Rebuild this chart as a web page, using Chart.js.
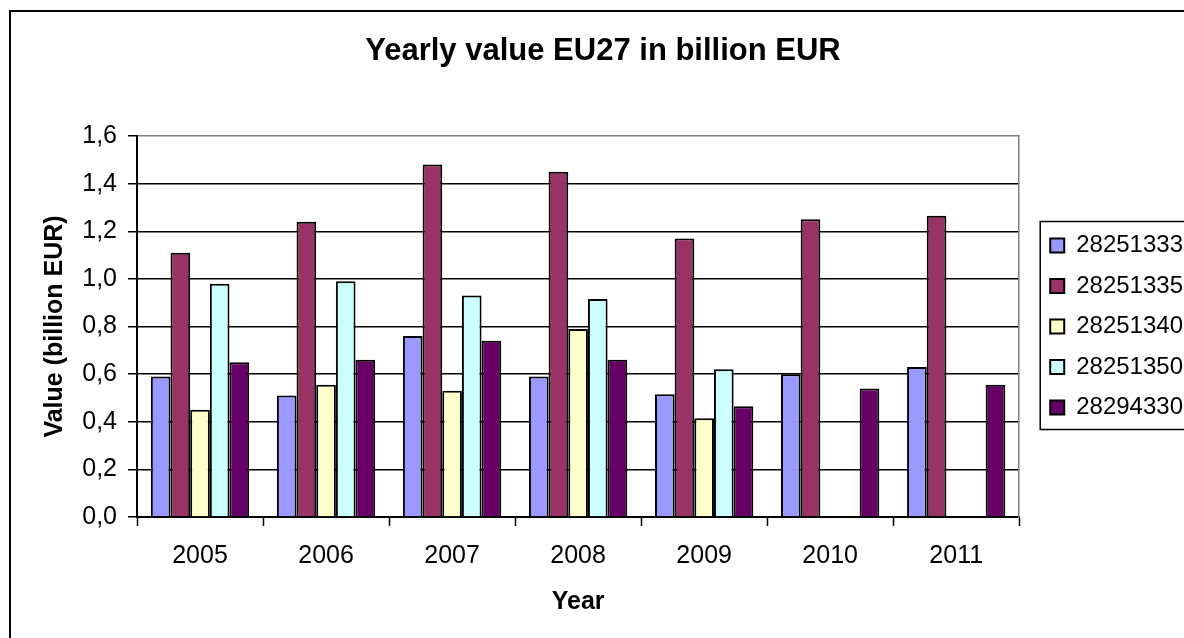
<!DOCTYPE html>
<html>
<head>
<meta charset="utf-8">
<title>Yearly value EU27 in billion EUR</title>
<script src="https://cdn.jsdelivr.net/npm/chart.js@4.4.1/dist/chart.umd.min.js"></script>
<style>
  html, body { margin: 0; padding: 0; background: #fff; overflow: hidden; }
  canvas { display: block; }
</style>
</head>
<body>
<canvas id="chart" width="1193" height="638"></canvas>
<script>
const years = ['2005', '2006', '2007', '2008', '2009', '2010', '2011'];
const seriesNames = ['28251333', '28251335', '28251340', '28251350', '28294330'];
const values28251333 = [0.59, 0.51, 0.76, 0.59, 0.515, 0.60, 0.63];
const values28251335 = [1.11, 1.24, 1.48, 1.45, 1.17, 1.25, 1.265];
const values28251340 = [0.45, 0.555, 0.53, 0.79, 0.415, null, null];
const values28251350 = [0.98, 0.99, 0.93, 0.915, 0.62, null, null];
const values28294330 = [0.65, 0.66, 0.74, 0.66, 0.465, 0.54, 0.555];
const yTickLabels = ['0,0', '0,2', '0,4', '0,6', '0,8', '1,0', '1,2', '1,4', '1,6'];

const seriesValues = [values28251333, values28251335, values28251340, values28251350, values28294330];
const seriesColors = ['#9999ff', '#993366', '#ffffcc', '#ccffff', '#660066'];

Chart.defaults.font.family = "'Liberation Sans', Arial, sans-serif";
Chart.defaults.color = '#000';

// outer frame of the chart and the box round the legend
const framePlugin = {
    id: 'frame',
    beforeDraw(chart) {
        const c = chart.ctx;
        c.save();
        c.strokeStyle = '#000';
        c.lineWidth = 2;
        c.strokeRect(10, 11, chart.width + 20, chart.height + 20);
        c.restore();
    },
    afterDraw(chart) {
        const boxes = chart.legend.legendHitBoxes;
        if (!boxes || !boxes.length) return;
        const first = boxes[0];
        const last = boxes[boxes.length - 1];
        const c = chart.ctx;
        c.save();
        c.strokeStyle = '#000';
        c.lineWidth = 1.5;
        const top = first.top - 12;
        c.strokeRect(first.left - 10, top, chart.width, last.top + last.height + 10 - top);
        c.restore();
    }
};

new Chart(document.getElementById('chart'), {
    type: 'bar',
    data: {
        labels: years,
        datasets: seriesNames.map((name, i) => ({
            label: name,
            data: seriesValues[i],
            backgroundColor: seriesColors[i],
            borderColor: '#000',
            borderWidth: 2,
            categoryPercentage: 0.78,
            barPercentage: 1
        }))
    },
    options: {
        responsive: false,
        animation: false,
        devicePixelRatio: 1,
        layout: { padding: { left: 13, right: 0, top: 0, bottom: 0 } },
        plugins: {
            title: {
                display: true,
                text: 'Yearly value EU27 in billion EUR',
                color: '#000',
                font: { size: 31, weight: 'bold' },
                padding: { top: 33, bottom: 65.8 }
            },
            legend: {
                position: 'right',
                fullSize: false,
                labels: {
                    boxWidth: 14,
                    boxHeight: 14,
                    padding: 16.5,
                    color: '#000',
                    font: { size: 24 }
                }
            },
            tooltip: { enabled: false }
        },
        scales: {
            x: {
                grid: { drawOnChartArea: false, drawTicks: true, tickLength: 9, tickColor: '#000', tickWidth: 1.5, offset: true },
                border: { color: '#000', width: 2 },
                ticks: { color: '#000', font: { size: 25 }, padding: 15, maxRotation: 0 },
                title: {
                    display: true,
                    text: 'Year',
                    color: '#000',
                    font: { size: 25, weight: 'bold' },
                    padding: { top: 1, bottom: 21 }
                }
            },
            y: {
                min: 0,
                max: 1.6,
                ticks: {
                    stepSize: 0.2,
                    color: '#000',
                    font: { size: 25 },
                    padding: 11,
                    callback: (value, index) => yTickLabels[index]
                },
                grid: {
                    color: ctx => (ctx.tick && ctx.tick.value > 1.59 ? '#808080' : '#000'),
                    lineWidth: 1.5,
                    tickLength: 9,
                    tickColor: '#000',
                    tickWidth: 1.5
                },
                border: { color: '#000', width: 2 },
                title: {
                    display: true,
                    text: 'Value (billion EUR)',
                    color: '#000',
                    font: { size: 25, weight: 'bold' },
                    padding: { top: 27, bottom: 1.25 }
                }
            },
            // empty right axis: grey right edge of the plot and the gap before the legend
            gap: {
                type: 'linear',
                position: 'right',
                grid: { drawOnChartArea: false, drawTicks: false },
                ticks: { display: false },
                border: { color: '#808080', width: 1.5 },
                afterFit(scale) { scale.width = 14.5; }
            }
        }
    },
    plugins: [framePlugin]
});
</script>
</body>
</html>
